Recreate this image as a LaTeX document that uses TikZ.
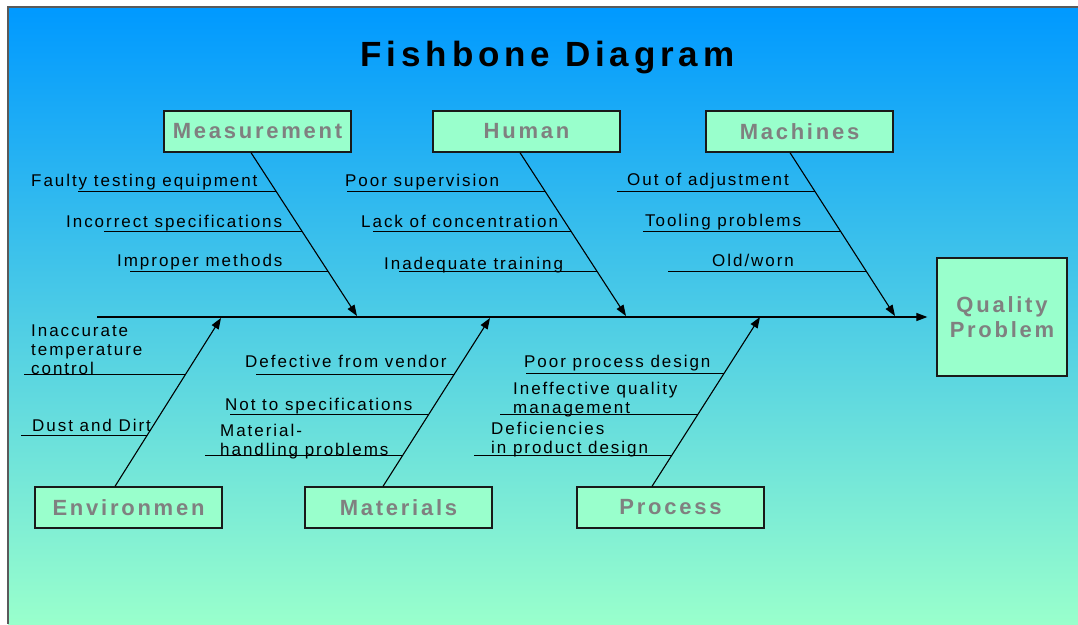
\documentclass[tikz,border=0pt]{standalone}
\usepackage{fontspec}
\usepackage{tikz}
\usetikzlibrary{arrows.meta,calc}
\newfontfamily\labelfont[LetterSpace=11.5]{Liberation Sans}
\newfontfamily\headfont[LetterSpace=12.5]{Liberation Sans}
\newfontfamily\titlefont[LetterSpace=14]{Liberation Sans}
\definecolor{bgtop}{HTML}{0099FF}
\definecolor{bgbot}{HTML}{99FFCC}
\definecolor{boxcol}{HTML}{99FFCC}
\definecolor{capcol}{HTML}{808080}
\definecolor{framecol}{HTML}{5A5A5A}

\begin{document}
\begin{tikzpicture}[x=1pt, y=-1pt,
  cause/.style={draw=black!90, line width=1.3pt, fill=boxcol, minimum width=187pt, minimum height=41pt, inner sep=0pt, text=capcol, font={\headfont\bfseries\fontsize{22}{25}\selectfont}},
  effect/.style={cause, minimum width=130pt, minimum height=118pt, align=center, font={\headfont\bfseries\fontsize{22}{25}\selectfont}},
  bone/.style={-{Triangle[length=11pt, width=8pt]}, line width=1.1pt},
  spine/.style={bone, line width=1.2pt},
  rib/.style={line width=1.1pt},
  lbl/.style={anchor=base west, inner sep=0pt, align=left, font={\labelfont\fontsize{17}{19}\selectfont}},
  title/.style={anchor=base, inner sep=0pt, font={\titlefont\bfseries\fontsize{35}{38}\selectfont}}
]
  \useasboundingbox (0,0) rectangle (1078,624);
  % background
  \shade[top color=bgtop, bottom color=bgbot] (8,7) rectangle (1078,624);
  \draw[framecol, line width=1.5pt] (8,624) -- (8,7) -- (1078,7);

  \node[title] (ttl) at (547.5,66) {Fishbone Diagram};

  % head and spine
  \node[effect] (qp) at (1002,317) {Quality\\Problem};
  \coordinate (tail) at (97,317);
  \draw[spine] (tail) -- ([xshift=-9pt]qp.west);

  % causes
  \node[cause] (meas) at (257.5,131.5) {Measurement};
  \node[cause] (human) at (526.5,131.5) {Human};
  \node[cause] (mach) at (799.5,131.5) {Machines};
  \node[cause] (env) at (128.5,507.5) {Environmen};
  \node[cause] (mat) at (398.5,507.5) {Materials};
  \node[cause] (proc) at (670.5,507.5) {Process};

  \coordinate (measH) at (357,316);
  \coordinate (humanH) at (626,316);
  \coordinate (machH) at (895,316);
  \coordinate (envH) at (221,318);
  \coordinate (matH) at (490,318);
  \coordinate (procH) at (760,317);

  % Measurement
  \draw[bone] ([xshift=-6.5pt]meas.south) -- (measH);
  \path ([xshift=-6.5pt]meas.south) -- (measH)
    coordinate[pos=.236] (m1) coordinate[pos=.485] (m2) coordinate[pos=.728] (m3);
  \draw[rib] (m1) -- ([xshift=-198pt]m1);
  \draw[rib] (m2) -- ([xshift=-198pt]m2);
  \draw[rib] (m3) -- ([xshift=-198pt]m3);
  \node[lbl] (lm1) at (31,186) {Faulty testing equipment};
  \node[lbl] (lm2) at (66,227) {Incorrect specifications};
  \node[lbl] (lm3) at (117,266) {Improper methods};

  % Human
  \draw[bone] ([xshift=-6.5pt]human.south) -- (humanH);
  \path ([xshift=-6.5pt]human.south) -- (humanH)
    coordinate[pos=.236] (h1) coordinate[pos=.485] (h2) coordinate[pos=.728] (h3);
  \draw[rib] (h1) -- ([xshift=-198pt]h1);
  \draw[rib] (h2) -- ([xshift=-198pt]h2);
  \draw[rib] (h3) -- ([xshift=-198pt]h3);
  \node[lbl] (lh1) at (345,186) {Poor supervision};
  \node[lbl] (lh2) at (361,227) {Lack of concentration};
  \node[lbl] (lh3) at (384,269) {Inadequate training};

  % Machines
  \draw[bone] ([xshift=-9.5pt]mach.south) -- (machH);
  \path ([xshift=-9.5pt]mach.south) -- (machH)
    coordinate[pos=.236] (c1) coordinate[pos=.485] (c2) coordinate[pos=.728] (c3);
  \draw[rib] (c1) -- ([xshift=-198pt]c1);
  \draw[rib] (c2) -- ([xshift=-198pt]c2);
  \draw[rib] (c3) -- ([xshift=-198pt]c3);
  \node[lbl] (lc1) at (627,185) {Out of adjustment};
  \node[lbl] (lc2) at (645,226) {Tooling problems};
  \node[lbl] (lc3) at (712,266) {Old/worn};

  % Environment (multi-line labels sit on their last line)
  \draw[bone] ([xshift=-13.5pt]env.north) -- (envH);
  \path ([xshift=-13.5pt]env.north) -- (envH)
    coordinate[pos=.667] (e1) coordinate[pos=.302] (e2);
  \draw[rib] (e1) -- ([xshift=-162pt]e1);
  \draw[rib] (e2) -- ([xshift=-126pt]e2);
  \node[lbl] (le1) at (31,374) {Inaccurate\\temperature\\control};
  \node[lbl] (le2) at (32,431) {Dust and Dirt};

  % Materials
  \draw[bone] ([xshift=-15.5pt]mat.north) -- (matH);
  \path ([xshift=-15.5pt]mat.north) -- (matH)
    coordinate[pos=.667] (t1) coordinate[pos=.425] (t2) coordinate[pos=.183] (t3);
  \draw[rib] (t1) -- ([xshift=-198pt]t1);
  \draw[rib] (t2) -- ([xshift=-198pt]t2);
  \draw[rib] (t3) -- ([xshift=-198pt]t3);
  \node[lbl] (lt1) at (245,367) {Defective from vendor};
  \node[lbl] (lt2) at (225,410) {Not to specifications};
  \node[lbl] (lt3) at (220,455) {Material-\\handling problems};

  % Process
  \draw[bone] ([xshift=-18.5pt]proc.north) -- (procH);
  \path ([xshift=-18.5pt]proc.north) -- (procH)
    coordinate[pos=.667] (p1) coordinate[pos=.425] (p2) coordinate[pos=.183] (p3);
  \draw[rib] (p1) -- ([xshift=-198pt]p1);
  \draw[rib] (p2) -- ([xshift=-198pt]p2);
  \draw[rib] (p3) -- ([xshift=-198pt]p3);
  \node[lbl] (lp1) at (524,367) {Poor process design};
  \node[lbl] (lp2) at (513,413) {Ineffective quality\\management};
  \node[lbl] (lp3) at (491,453) {Deficiencies\\in product design};
\end{tikzpicture}
\end{document}
